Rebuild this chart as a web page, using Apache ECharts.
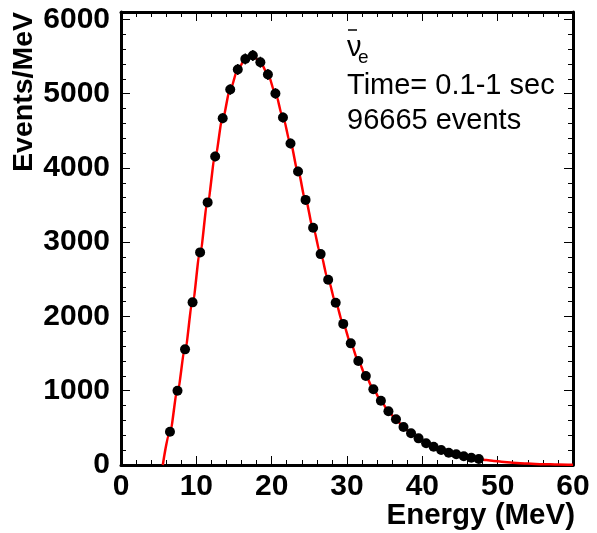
<!DOCTYPE html>
<html>
<head>
<meta charset="utf-8">
<script src="https://cdn.jsdelivr.net/npm/echarts@6/dist/echarts.min.js"></script>
<style>
  html, body { margin: 0; padding: 0; background: #fff; }
  #main { width: 597px; height: 533px; }
</style>
</head>
<body>
<div id="main"></div>
<script>
// bin centres (MeV) and counts per MeV
const energy = [6.5, 7.5, 8.5, 9.5, 10.5, 11.5, 12.5, 13.5, 14.5, 15.5,
  16.5, 17.5, 18.5, 19.5, 20.5, 21.5, 22.5, 23.5, 24.5, 25.5,
  26.5, 27.5, 28.5, 29.5, 30.5, 31.5, 32.5, 33.5, 34.5, 35.5,
  36.5, 37.5, 38.5, 39.5, 40.5, 41.5, 42.5, 43.5, 44.5, 45.5,
  46.5, 47.5];
const events = [448, 1000, 1557, 2190, 2863, 3536, 4155, 4670, 5057, 5326,
  5468, 5514, 5424, 5258, 5003, 4680, 4330, 3953, 3570, 3194,
  2840, 2494, 2184, 1900, 1638, 1400, 1198, 1019, 866, 723,
  615, 511, 427, 359, 292, 246, 202, 166, 144, 117,
  98, 81];
const errors = [21, 32, 39, 47, 54, 59, 64, 68, 71, 73,
  74, 74, 74, 73, 71, 68, 66, 63, 60, 57,
  53, 50, 47, 44, 40, 37, 35, 32, 29, 27,
  25, 23, 21, 19, 17, 16, 14, 13, 12, 11,
  10, 9];

// fit curve: start, then through the points, then the tail
const fitStart = [5.55, 0];
const tailEnergy = [48.5, 49.5, 50.5, 52, 54, 56, 58, 60];
const tailFit = [66, 54, 44, 31, 19, 11, 6, 3];

const xTicks = [0, 10, 20, 30, 40, 50, 60];
const yTicks = [0, 1000, 2000, 3000, 4000, 5000, 6000];

const fitCurve = [fitStart]
  .concat(energy.map((e, i) => [e, events[i]]))
  .concat(tailEnergy.map((e, i) => [e, tailFit[i]]));

const chart = echarts.init(document.getElementById('main'));
const FONT = 'Liberation Sans, Arial, sans-serif';

const frameLine = {show: true, onZero: false, lineStyle: {color: '#000', width: 3}};
const majorTick = {show: true, inside: true, length: 9, lineStyle: {color: '#000', width: 1}};
const minorTick = {show: true, inside: true, length: 5, lineStyle: {color: '#000', width: 1}};

let option = {
  animation: false,
  backgroundColor: '#fff',
  grid: {left: 121, right: 24, top: 12, bottom: 68, containLabel: false},
  xAxis: [
    {
      type: 'value', min: 0, max: 60, interval: 10, position: 'bottom',
      axisLine: frameLine, axisTick: majorTick,
      minorTick: Object.assign({splitNumber: 5}, minorTick),
      splitLine: {show: false},
      axisLabel: {
        fontFamily: FONT, fontWeight: 'bold', fontSize: 30, color: '#000', margin: 7,
        formatter: v => xTicks.includes(v) ? String(v) : ''
      }
    },
    {
      type: 'value', min: 0, max: 60, interval: 10, position: 'top',
      axisLine: frameLine, axisTick: majorTick,
      minorTick: Object.assign({splitNumber: 5}, minorTick),
      splitLine: {show: false}, axisLabel: {show: false}
    }
  ],
  yAxis: [
    {
      type: 'value', min: 0, max: 6100, interval: 1000, position: 'left',
      axisLine: frameLine, axisTick: majorTick,
      splitLine: {show: false},
      axisLabel: {
        fontFamily: FONT, fontWeight: 'bold', fontSize: 30, color: '#000', margin: 11,
        formatter: v => yTicks.includes(v) ? String(v) : ''
      }
    },
    {
      type: 'value', min: 0, max: 6100, interval: 200, position: 'left',
      axisLine: {show: false, onZero: false}, axisTick: minorTick,
      splitLine: {show: false}, axisLabel: {show: false}
    },
    {
      type: 'value', min: 0, max: 6100, interval: 1000, position: 'right',
      axisLine: frameLine, axisTick: majorTick,
      splitLine: {show: false}, axisLabel: {show: false}
    },
    {
      type: 'value', min: 0, max: 6100, interval: 200, position: 'right',
      axisLine: {show: false, onZero: false}, axisTick: minorTick,
      splitLine: {show: false}, axisLabel: {show: false}
    }
  ],
  series: [
    {
      name: 'fit',
      type: 'line',
      data: fitCurve,
      smooth: 0.3,
      smoothMonotone: 'x',
      showSymbol: false,
      lineStyle: {color: '#ff0000', width: 2.5},
      z: 2,
      silent: true
    },
    {
      name: 'errors',
      type: 'custom',
      data: energy.map((e, i) => [e, events[i], errors[i]]),
      renderItem: (params, api) => {
        const lo = api.coord([api.value(0), api.value(1) - api.value(2)]);
        const hi = api.coord([api.value(0), api.value(1) + api.value(2)]);
        return {
          type: 'line',
          shape: {x1: lo[0], y1: lo[1], x2: hi[0], y2: hi[1]},
          style: {stroke: '#000', lineWidth: 1.5}
        };
      },
      z: 3,
      silent: true
    },
    {
      name: 'data',
      type: 'scatter',
      data: energy.map((e, i) => [e, events[i]]),
      symbol: 'circle',
      symbolSize: 10,
      itemStyle: {color: '#000', opacity: 1},
      z: 4,
      silent: true
    }
  ],
  graphic: [
    {
      type: 'text', x: 24, y: 12, rotation: Math.PI / 2,
      style: {text: 'Events/MeV', fontFamily: FONT, fontWeight: 'bold', fontSize: 28.5,
        fill: '#000', align: 'right', verticalAlign: 'middle'}
    },
    {
      type: 'text', x: 575, y: 516,
      style: {text: 'Energy (MeV)', fontFamily: FONT, fontWeight: 'bold', fontSize: 29.5,
        fill: '#000', align: 'right', verticalAlign: 'middle'}
    },
    {
      type: 'line', shape: {x1: 348, y1: 30, x2: 357, y2: 30},
      style: {stroke: '#000', lineWidth: 1.5}
    },
    {
      type: 'text', x: 347, y: 48,
      style: {text: 'ν', fontFamily: FONT, fontSize: 29, fill: '#000',
        align: 'left', verticalAlign: 'middle'}
    },
    {
      type: 'text', x: 358, y: 58,
      style: {text: 'e', fontFamily: FONT, fontSize: 19, fill: '#000',
        align: 'left', verticalAlign: 'middle'}
    },
    {
      type: 'text', x: 347, y: 86,
      style: {text: 'Time= 0.1-1 sec', fontFamily: FONT, fontSize: 29, fill: '#000',
        align: 'left', verticalAlign: 'middle'}
    },
    {
      type: 'text', x: 347, y: 121,
      style: {text: '96665 events', fontFamily: FONT, fontSize: 29, fill: '#000',
        align: 'left', verticalAlign: 'middle'}
    }
  ]
};

chart.setOption(option);
</script>
</body>
</html>
